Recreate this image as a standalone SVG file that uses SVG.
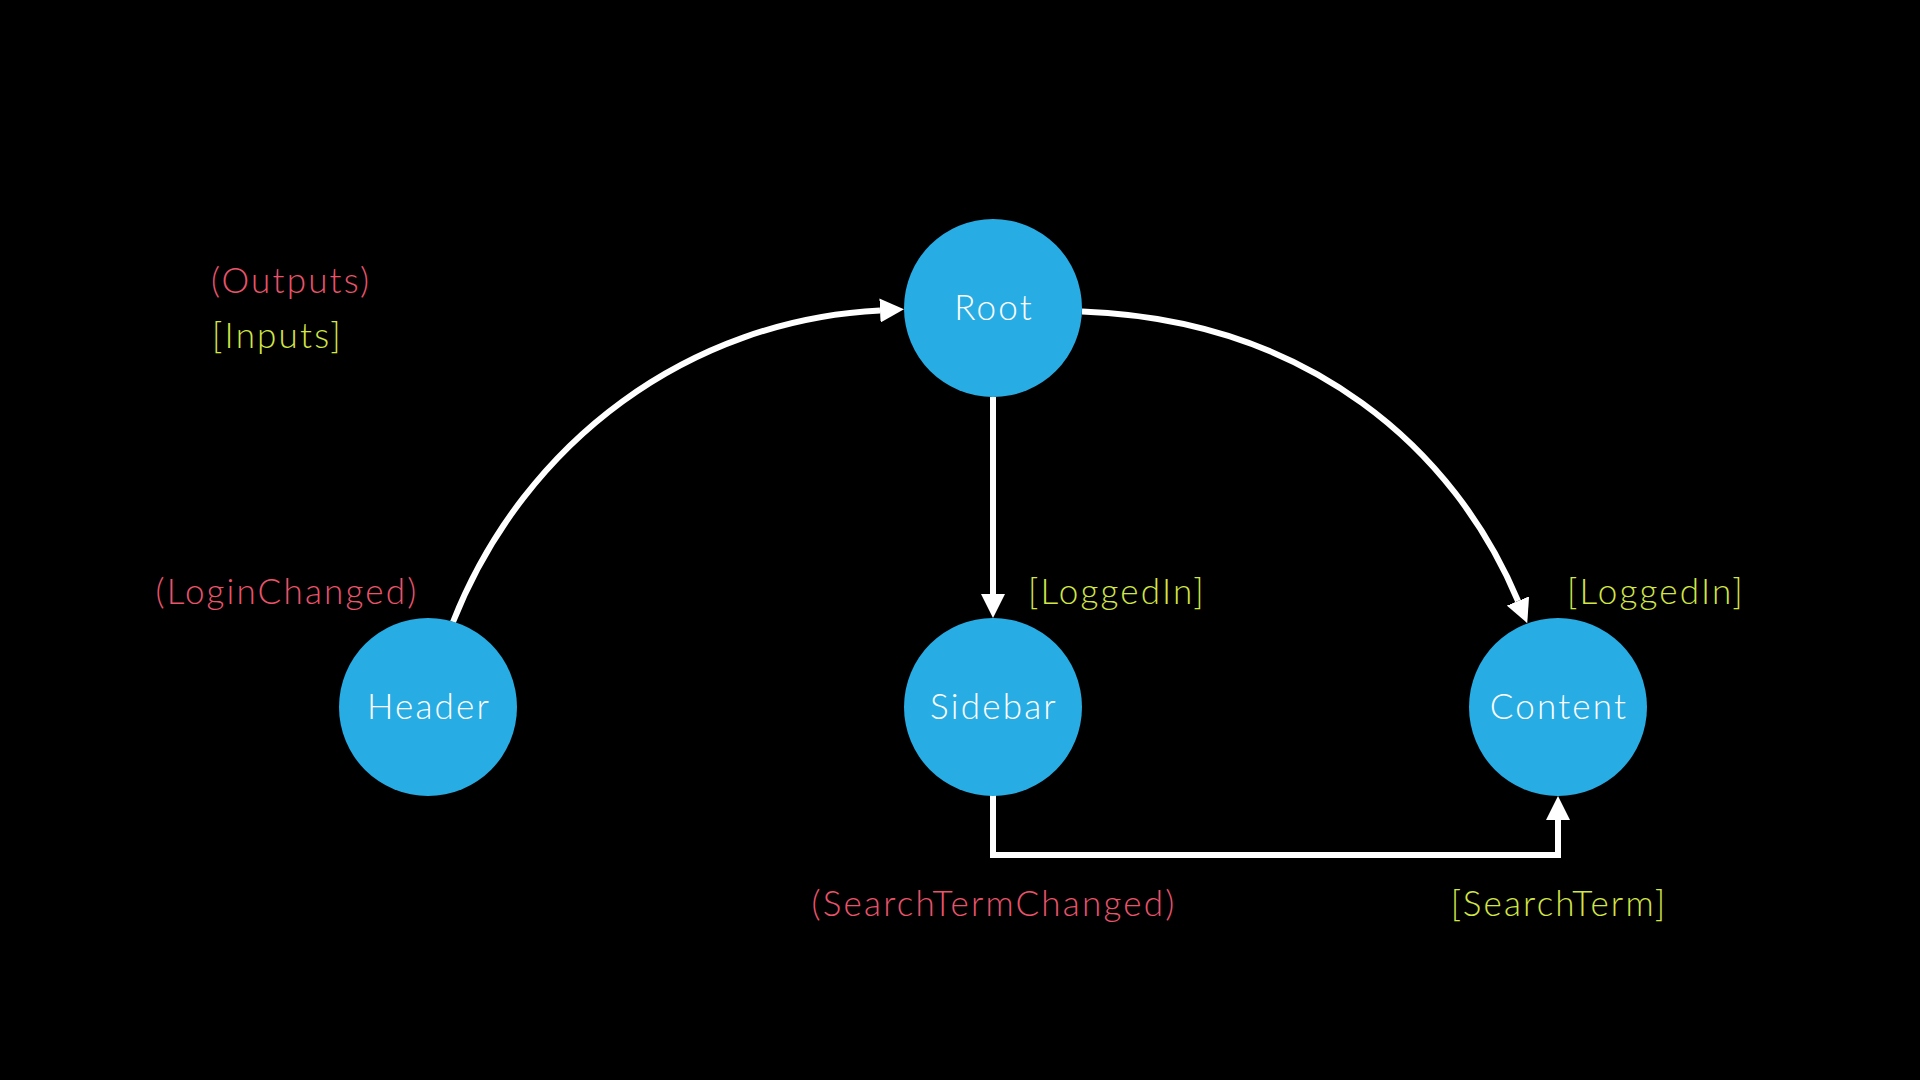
<svg xmlns="http://www.w3.org/2000/svg" width="1920" height="1080" viewBox="0 0 1920 1080">
  <style>
    .node circle { fill: #27ADE4; }
    .node text { fill: #FFFFFF; font-family: Lato, "Open Sans", "Liberation Sans", sans-serif; font-weight: 300; font-size: 35px; letter-spacing: 2.2px; text-anchor: middle; }
    .edge { fill: none; stroke: #FFFFFF; stroke-width: 6; }
    .lbl { font-family: Lato, "Open Sans", "Liberation Sans", sans-serif; font-weight: 300; font-size: 35px; letter-spacing: 2.2px; }
    .out { fill: #E9536B; }
    .in { fill: #D2E645; }
  </style>
  <defs>
    <marker id="arrow" markerUnits="userSpaceOnUse" markerWidth="24" markerHeight="24" viewBox="0 0 24 24" refX="0" refY="12" orient="auto">
      <path d="M0,0 L24,12 L0,24 Z" fill="#FFFFFF"/>
    </marker>
  </defs>
  <rect width="1920" height="1080" fill="#000000"/>

  <g id="connectors">
    <path class="edge" d="M453,622 C525,440 690,320 880,310.5" marker-end="url(#arrow)"/>
    <path class="edge" d="M1082,311.5 C1310,320 1455,450 1518,601" marker-end="url(#arrow)"/>
    <path class="edge" d="M993,397 L993,594" marker-end="url(#arrow)"/>
    <path class="edge" d="M993,795 L993,855 L1558,855 L1558,820" marker-end="url(#arrow)"/>
  </g>

  <g id="legend">
    <text class="lbl out" x="211" y="293">(Outputs)</text>
    <text class="lbl in" x="212" y="348">[Inputs]</text>
  </g>

  <g id="labels">
    <text class="lbl out" x="287" y="604" text-anchor="middle">(LoginChanged)</text>
    <text class="lbl in" x="1028" y="604">[LoggedIn]</text>
    <text class="lbl in" x="1567" y="604">[LoggedIn]</text>
    <text class="lbl out" x="994" y="916" text-anchor="middle">(SearchTermChanged)</text>
    <text class="lbl in" x="1559" y="916" text-anchor="middle">[SearchTerm]</text>
  </g>

  <g id="node-root" class="node">
    <circle cx="993" cy="308" r="89"/>
    <text x="994" y="320">Root</text>
  </g>
  <g id="node-header" class="node">
    <circle cx="428" cy="707" r="89"/>
    <text x="429" y="719">Header</text>
  </g>
  <g id="node-sidebar" class="node">
    <circle cx="993" cy="707" r="89"/>
    <text x="994" y="719">Sidebar</text>
  </g>
  <g id="node-content" class="node">
    <circle cx="1558" cy="707" r="89"/>
    <text x="1559" y="719">Content</text>
  </g>
</svg>
